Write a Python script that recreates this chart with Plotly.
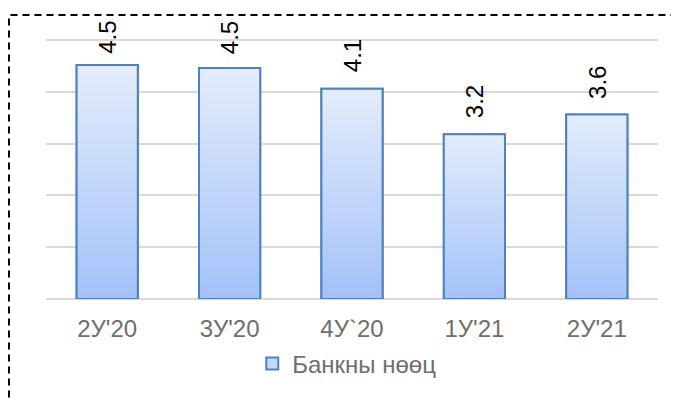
import plotly.graph_objects as go

categories = ["2У'20", "3У'20", "4У`20", "1У'21", "2У'21"]
values = [4.52, 4.46, 4.06, 3.18, 3.56]
series_name = "Банкны нөөц"

FONT = "Liberation Sans, Arial, sans-serif"
GRAD = [[0, "#A3C2F9"], [1, "#E3ECFB"]]
EDGE = "#4F81BD"
HALF = 0.25
LABEL_CAP = 4.42  # labels cannot rise above the chart's top edge

xs = list(range(len(categories)))

fig = go.Figure()
fig.add_trace(go.Bar(
    x=xs, y=values, width=2 * HALF, name=series_name,
    marker=dict(color="#C4D8FA", line=dict(color=EDGE, width=2)),
    hoverinfo="skip",
))
for i, v in zip(xs, values):
    fig.add_trace(go.Scatter(
        x=[i - HALF, i + HALF, i + HALF, i - HALF, i - HALF],
        y=[0, 0, v, v, 0],
        mode="lines", fill="toself",
        fillgradient=dict(type="vertical", colorscale=GRAD),
        line=dict(color=EDGE, width=2),
        showlegend=False, hoverinfo="skip",
    ))

annotations = [
    dict(x=i, y=min(v, LABEL_CAP), xref="x", yref="y", text=f"{round(v, 1):.1f}",
         showarrow=False, textangle=-90, yanchor="bottom", xanchor="center", yshift=14,
         font=dict(family=FONT, size=24, color="#000000"))
    for i, v in zip(xs, values)
]

fig.update_layout(
    width=671, height=392,
    margin=dict(l=38, r=21, t=31, b=101),
    paper_bgcolor="white", plot_bgcolor="white",
    showlegend=True,
    legend=dict(orientation="h", x=0.337, xanchor="left", y=-0.25, yanchor="middle",
                font=dict(family=FONT, size=24, color="#6E6E6E"),
                itemwidth=30, bgcolor="rgba(0,0,0,0)"),
    xaxis=dict(range=[-0.5, len(categories) - 0.5], tickmode="array", tickvals=xs,
               ticktext=categories, showgrid=False, zeroline=False, showline=False,
               ticks="", ticklabelstandoff=13,
               tickfont=dict(family=FONT, size=24, color="#6E6E6E")),
    yaxis=dict(range=[0, 5.02], dtick=1, showticklabels=False, showgrid=True,
               gridcolor="#D9D9D9", gridwidth=1.5, zeroline=True,
               zerolinecolor="#D9D9D9", zerolinewidth=1.5, ticks=""),
    annotations=annotations,
    shapes=[dict(type="rect", xref="paper", yref="paper",
                 x0=-0.0605, x1=1.06, y0=-0.45, y1=1.0923,
                 line=dict(color="black", width=2, dash="7px,5px"),
                 fillcolor="rgba(0,0,0,0)", layer="above")],
)

fig.write_html("out.html")
